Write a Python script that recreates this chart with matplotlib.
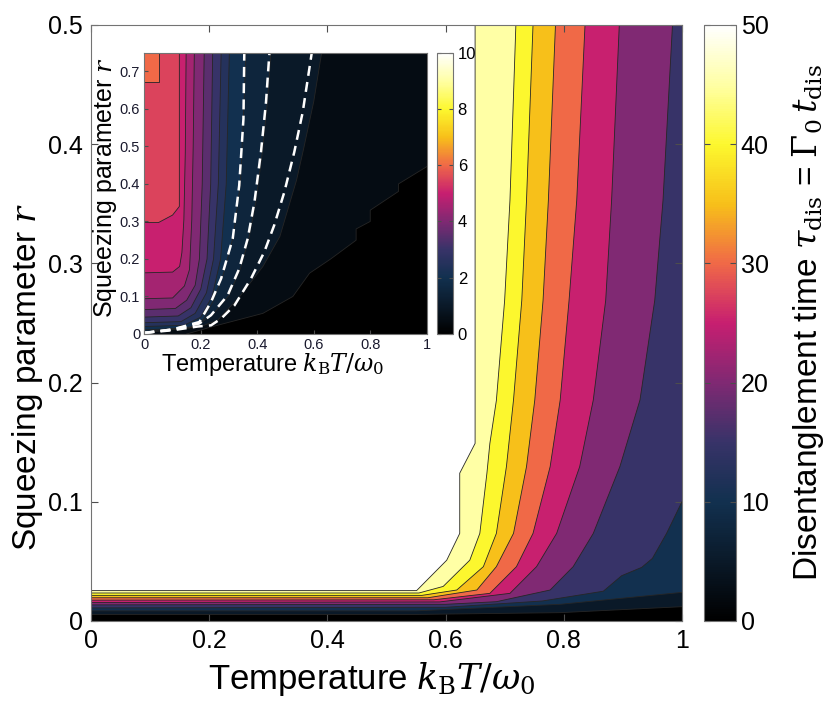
import numpy as np
import matplotlib as mpl
import matplotlib.pyplot as plt
from matplotlib.colors import LinearSegmentedColormap, Normalize
from matplotlib.patches import Polygon

plt.rcParams['font.family'] = ['Liberation Sans', 'DejaVu Sans']
plt.rcParams['mathtext.fontset'] = 'dejavuserif'

# colour map nodes
cmap_pos = [0.0, 0.1, 0.2, 0.3, 0.4, 0.5, 0.6, 0.7, 0.8, 0.9, 1.0]
cmap_rgb = [(0.00, 0.00, 0.00), (0.04, 0.10, 0.16), (0.07, 0.19, 0.31),
            (0.22, 0.20, 0.41), (0.50, 0.16, 0.45), (0.78, 0.12, 0.44),
            (0.94, 0.41, 0.28), (0.97, 0.75, 0.10), (0.99, 0.97, 0.18),
            (1.00, 1.00, 0.64), (1.00, 1.00, 1.00)]

# ---- main panel: contour lines of tau_dis, points (T, r) ----
main_levels = [5, 10, 15, 20, 25, 30, 35, 40, 45, 50]
T05 = [0, 0.55, 0.794, 1.0]
r05 = [0.0055, 0.0055, 0.007, 0.012]
T10 = [0, 0.55, 0.794, 1.0]
r10 = [0.0085, 0.0085, 0.014, 0.024]
T15 = [0, 0.60, 0.764, 0.867, 0.898, 0.932, 0.950, 0.974, 1.0]
r15 = [0.011, 0.0115, 0.0168, 0.025, 0.038, 0.045, 0.0525, 0.0735, 0.10]
T20 = [0, 0.60, 0.686, 0.777, 0.816, 0.850, 0.895, 0.929, 0.954, 0.968, 0.984]
r20 = [0.0135, 0.014, 0.0162, 0.026, 0.0456, 0.0735, 0.1295, 0.1854, 0.269, 0.353, 0.5]
T25 = [0, 0.59, 0.709, 0.754, 0.788, 0.827, 0.850, 0.871, 0.881, 0.894]
r25 = [0.0155, 0.016, 0.0232, 0.0456, 0.0735, 0.1295, 0.1854, 0.269, 0.353, 0.5]
T30 = [0, 0.58, 0.675, 0.720, 0.748, 0.777, 0.794, 0.809, 0.822, 0.836]
r30 = [0.0175, 0.0178, 0.0232, 0.0456, 0.0735, 0.1295, 0.1854, 0.269, 0.353, 0.5]
T35 = [0, 0.57, 0.653, 0.686, 0.715, 0.737, 0.751, 0.765, 0.774, 0.786]
r35 = [0.0195, 0.0195, 0.026, 0.0456, 0.0735, 0.1295, 0.1854, 0.269, 0.353, 0.5]
T40 = [0, 0.56, 0.619, 0.664, 0.686, 0.703, 0.715, 0.729, 0.737, 0.748]
r40 = [0.0215, 0.0215, 0.026, 0.0456, 0.0735, 0.1295, 0.1854, 0.269, 0.353, 0.5]
T45 = [0, 0.555, 0.596, 0.641, 0.658, 0.670, 0.675, 0.686, 0.700, 0.709, 0.719]
r45 = [0.0235, 0.0235, 0.029, 0.051, 0.0735, 0.124, 0.149, 0.185, 0.269, 0.353, 0.5]
T50 = [0, 0.551, 0.602, 0.624, 0.624, 0.650, 0.650]
r50 = [0.0255, 0.0255, 0.051, 0.0735, 0.124, 0.149, 0.5]

# ---- inset: contour lines, levels 0.5 .. 6 ----
inset_levels = [0.5, 1, 1.5, 2, 2.5, 3, 3.5, 4, 4.5, 5, 5.5, 6]
iT0_5 = [0.15, 0.243, 0.42, 0.526, 0.585, 0.66, 0.75, 0.75, 0.80, 0.80, 0.90, 0.90, 1.0]
ir0_5 = [0.0, 0.02, 0.055, 0.10, 0.162, 0.2, 0.25, 0.28, 0.30, 0.33, 0.38, 0.40, 0.446]
iT1_0 = [0, 0.2, 0.26, 0.338, 0.42, 0.48, 0.539, 0.563, 0.60, 0.628]
ir1_0 = [0.003, 0.02, 0.037, 0.10, 0.18, 0.26, 0.41, 0.49, 0.62, 0.75]
iT1_5 = [0, 0.18, 0.24, 0.30, 0.34, 0.37, 0.395, 0.418, 0.436, 0.448]
ir1_5 = [0.006, 0.02, 0.05, 0.103, 0.174, 0.254, 0.352, 0.485, 0.619, 0.75]
iT2_0 = [0, 0.16, 0.21, 0.245, 0.28, 0.315, 0.34, 0.352, 0.36]
ir2_0 = [0.011, 0.016, 0.04, 0.09, 0.16, 0.26, 0.4, 0.6, 0.75]
iT2_5 = [0, 0.14, 0.20, 0.24, 0.27, 0.29, 0.301]
ir2_5 = [0.020, 0.023, 0.045, 0.10, 0.2, 0.4, 0.75]
iT3_0 = [0, 0.13, 0.18, 0.22, 0.245, 0.262, 0.272]
ir3_0 = [0.030, 0.033, 0.055, 0.11, 0.2, 0.4, 0.75]
iT3_5 = [0, 0.12, 0.165, 0.20, 0.222, 0.235, 0.242]
ir3_5 = [0.045, 0.048, 0.07, 0.12, 0.2, 0.4, 0.75]
iT4_0 = [0, 0.11, 0.15, 0.18, 0.195, 0.205, 0.212]
ir4_0 = [0.065, 0.068, 0.09, 0.13, 0.2, 0.4, 0.75]
iT4_5 = [0, 0.10, 0.142, 0.16, 0.168, 0.173, 0.177]
ir4_5 = [0.094, 0.096, 0.128, 0.172, 0.305, 0.5, 0.75]
iT5_0 = [0, 0.10, 0.125, 0.133, 0.14, 0.145, 0.148]
ir5_0 = [0.163, 0.165, 0.18, 0.217, 0.305, 0.483, 0.75]
iT5_5 = [0, 0.05, 0.10, 0.124, 0.124]
ir5_5 = [0.297, 0.297, 0.317, 0.34, 0.75]
iT6_0 = [0, 0.053, 0.053]
ir6_0 = [0.672, 0.672, 0.75]

# dashed white curves in the inset
dT1 = [0, 0.10, 0.195, 0.236, 0.272, 0.313, 0.336, 0.351, 0.354]
dr1 = [0.003, 0.012, 0.032, 0.085, 0.148, 0.254, 0.396, 0.574, 0.75]
dT2 = [0, 0.10, 0.195, 0.236, 0.295, 0.336, 0.366, 0.390, 0.413, 0.431, 0.443]
dr2 = [0.003, 0.012, 0.028, 0.05, 0.103, 0.174, 0.254, 0.352, 0.485, 0.619, 0.75]
dT3 = [0, 0.10, 0.19, 0.236, 0.272, 0.319, 0.378, 0.425, 0.460, 0.496, 0.531, 0.561, 0.593]
dr3 = [0.003, 0.010, 0.02, 0.023, 0.041, 0.076, 0.148, 0.219, 0.290, 0.379, 0.485, 0.592, 0.75]

cmap = LinearSegmentedColormap.from_list('tdis', list(zip(cmap_pos, cmap_rgb)))


def superlevel(xs, ys, xmax, ymax):
    pts = list(zip(xs, ys))
    if xs[-1] >= xmax and ys[-1] < ymax:
        pts.append((xmax, ymax))
    pts.append((0, ymax))
    if ys[0] <= 0 and xs[0] > 0:
        pts.append((0, 0))
    return pts


def draw_bands(ax, levels, curves, vmax, xmax, ymax, lw):
    norm = Normalize(0, vmax)
    ax.set_facecolor(cmap(0.0))
    for lev, (xs, ys) in zip(levels, curves):
        ax.add_patch(Polygon(superlevel(xs, ys, xmax, ymax), closed=True,
                             facecolor=cmap(norm(lev)), edgecolor='none'))
    for lev, (xs, ys) in zip(levels, curves):
        ax.plot(xs, ys, color='0.15', lw=lw)
    ax.set_xlim(0, xmax)
    ax.set_ylim(0, ymax)


fig = plt.figure(figsize=(8.3, 7.04), dpi=100)

ax = fig.add_axes([0.1096, 0.1179, 0.7120, 0.8466])
main_curves = [(T05, r05), (T10, r10), (T15, r15), (T20, r20), (T25, r25),
               (T30, r30), (T35, r35), (T40, r40), (T45, r45), (T50, r50)]
draw_bands(ax, main_levels, main_curves, 50, 1.0, 0.5, 0.6)
ax.set_xticks([0, 0.2, 0.4, 0.6, 0.8, 1])
ax.set_xticklabels(['0', '0.2', '0.4', '0.6', '0.8', '1'])
ax.set_yticks([0, 0.1, 0.2, 0.3, 0.4, 0.5])
ax.set_yticklabels(['0', '0.1', '0.2', '0.3', '0.4', '0.5'])
ax.tick_params(direction='in', top=True, right=True, labelsize=18, length=5, color='0.3', pad=6)
for s in ax.spines.values():
    s.set_color('0.45')
ax.set_xlabel('Temperature $k_{\\rm B}T/\\omega_0$', fontsize=25)
ax.xaxis.set_label_coords(0.475, -0.066)
ax.set_ylabel('Squeezing parameter $r$', fontsize=24)
ax.yaxis.set_label_coords(-0.078, 0.41)

cax = fig.add_axes([0.848, 0.1179, 0.0386, 0.8466])
cb = fig.colorbar(mpl.cm.ScalarMappable(norm=Normalize(0, 50), cmap=cmap), cax=cax)
cb.set_ticks([0, 10, 20, 30, 40, 50])
cb.ax.tick_params(direction='in', labelsize=18, length=4, color='0.3', left=True)
cb.outline.set_edgecolor('0.45')
cb.set_label('Disentanglement time $\\tau_{\\rm dis}$ = $\\Gamma_0\\,t_{\\rm dis}$', fontsize=24)
cb.ax.yaxis.set_label_coords(2.7, 0.5)

# inset
ax2 = fig.add_axes([0.1739, 0.5256, 0.3402, 0.3996])
inset_curves = [(iT0_5, ir0_5), (iT1_0, ir1_0), (iT1_5, ir1_5), (iT2_0, ir2_0),
                (iT2_5, ir2_5), (iT3_0, ir3_0), (iT3_5, ir3_5), (iT4_0, ir4_0),
                (iT4_5, ir4_5), (iT5_0, ir5_0), (iT5_5, ir5_5), (iT6_0, ir6_0)]
draw_bands(ax2, inset_levels, inset_curves, 10, 1.0, 0.75, 0.6)
for xs, ys in [(dT1, dr1), (dT2, dr2), (dT3, dr3)]:
    ax2.plot(xs, ys, color='white', lw=1.8, ls=(0, (4, 2.5)))
ax2.set_xticks([0, 0.2, 0.4, 0.6, 0.8, 1])
ax2.set_xticklabels(['0', '0.2', '0.4', '0.6', '0.8', '1'])
ax2.set_yticks([0, 0.1, 0.2, 0.3, 0.4, 0.5, 0.6, 0.7])
ax2.set_yticklabels(['0', '0.1', '0.2', '0.3', '0.4', '0.5', '0.6', '0.7'])
ax2.tick_params(direction='in', labelsize=10.5, length=3, color='0.3', pad=3, labelcolor='#1a1a2e')
for s in ax2.spines.values():
    s.set_color('0.45')
ax2.set_xlabel('Temperature $k_{\\rm B}T/\\omega_0$', fontsize=17)
ax2.xaxis.set_label_coords(0.456, -0.062)
ax2.set_ylabel('Squeezing parameter $r$', fontsize=18)
ax2.yaxis.set_label_coords(-0.09, 0.52)

cax2 = fig.add_axes([0.5269, 0.5256, 0.0186, 0.3996])
cb2 = fig.colorbar(mpl.cm.ScalarMappable(norm=Normalize(0, 10), cmap=cmap), cax=cax2)
cb2.set_ticks([0, 2, 4, 6, 8, 10])
cb2.ax.tick_params(direction='in', labelsize=12, length=3, color='0.3', left=True)
cb2.outline.set_edgecolor('0.45')

fig.savefig('out.png', dpi=100)
